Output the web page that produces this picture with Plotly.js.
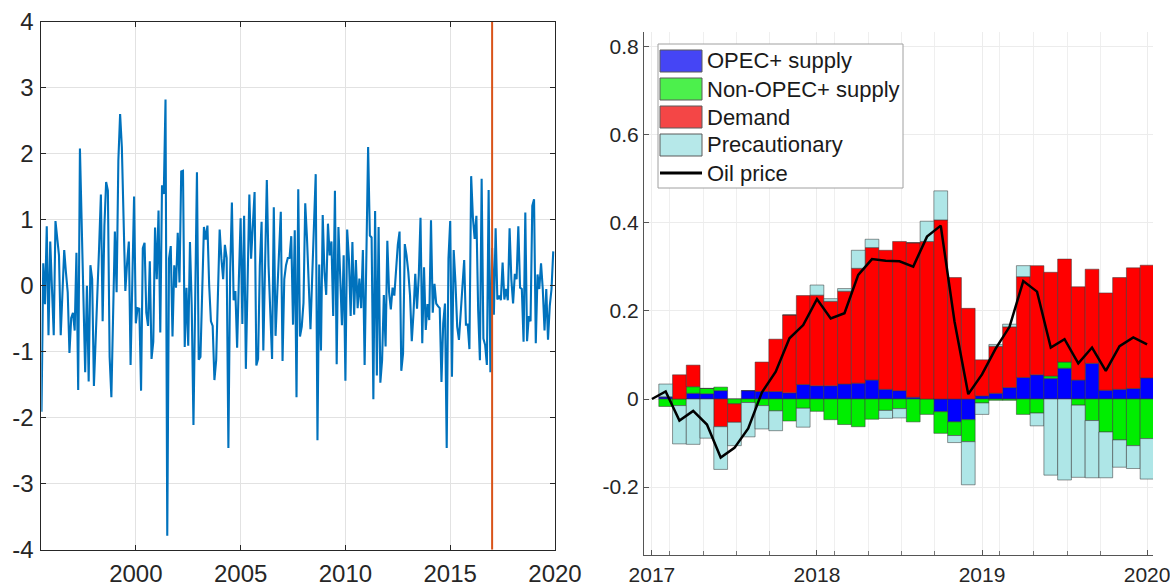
<!DOCTYPE html>
<html><head><meta charset="utf-8">
<script src="https://cdn.plot.ly/plotly-3.0.1.min.js"></script>
<style>html,body{margin:0;padding:0;background:#fff;} #chart{width:1170px;height:587px;}</style>
</head><body><div id="chart"></div>
<script>
// ---------- Left panel: monthly shock series (Jul 1995 - Dec 2019) ----------
const seriesStart = 1995.5;
const shockSeries = [
 -1.91, 0.34, -0.28, 0.90, -0.75, 0.67, -0.05, -0.75, 0.98, 0.75,
 0.46, -0.75, -0.10, 0.54, 0.20, -0.10, -1.02, -0.49, -0.41, -0.68,
 0.50, -1.58, 2.08, 0.80, -0.40, -1.31, 0.00, -1.45, 0.31, 0.10,
 -1.52, -0.90, -0.20, 0.60, 1.38, -0.54, 0.90, 1.57, 1.44, -1.08,
 -1.69, -0.40, 0.82, -0.10, 1.90, 2.60, 2.10, 1.00, -0.08, 0.34,
 0.67, -1.20, 0.30, 1.35, -0.57, -0.34, -0.35, -1.59, 0.57, 0.65,
 -0.41, -0.61, 0.37, -1.11, -0.85, 0.88, 0.10, 1.14, -0.71, 1.52,
 1.39, 2.82, -3.79, 0.41, 0.60, -0.77, 0.31, -0.03, 0.80, 0.05,
 1.73, 1.74, -0.93, -0.03, -0.91, 0.66, -0.30, -2.11, -0.20, 1.72,
 -1.12, -1.08, -0.10, 0.89, 0.70, 0.91, 0.00, -0.54, -0.61, -1.43,
 -1.13, -0.10, 0.85, 0.41, 0.10, 0.62, 0.42, -2.46, 0.20, 1.26,
 -0.22, -0.08, -0.94, 0.10, 1.02, -0.58, 1.06, -1.26, 0.00, 1.38,
 0.41, 0.90, 1.42, -1.21, -1.11, 0.30, 0.97, -0.98, 0.50, 1.60,
 0.30, -0.50, -1.11, 1.19, -0.76, -0.10, 0.60, 1.12, -1.14, 0.10,
 0.31, 0.42, 0.42, 0.75, -0.59, 0.84, -1.69, 1.46,
 -0.77, -0.62, -0.26, 1.25, 0.72, -0.05, -0.66, 0.15, 0.93, 1.69,
 -2.34, 0.32, -0.98, 1.07, 0.21, -0.14, 0.94, 0.46, 0.67, -0.46,
 1.44, -1.19, 0.89, 0.05, -0.60, 0.46, -1.44, 0.85, 0.41, -0.46,
 0.66, -0.44, 0.39, -0.34, 0.11, -0.34, 0.54, -1.20, 0.40,
 2.10, 0.76, 0.73, -1.72, 1.13, -1.36, 0.89, -1.47, -1.13, -0.14,
 -0.92, 0.68, -0.10, -0.36, -0.03, -0.15, 0.31, 0.62, 0.82,
 -1.29, -1.03, 0.63, 0.46, 0.21, -0.15, -0.84, -0.41, 0.18, -0.35,
 0.15, 1.03, -0.87, 0.28, -0.67, -0.28, -0.52, 0.99, -0.41, 0.03,
 -0.27, -0.31, -0.34, -1.46, -0.57, -0.27, -2.46, 0.41, 0.98, -1.38,
 0.54, 0.05, -0.62, -0.82, -0.46, 0.00, 0.39, -0.59, -0.59, -0.96,
 1.66, 1.03, 0.71, 1.06, -0.36, -1.13, 1.62, -0.80, -0.90, -1.20,
 1.45, -1.31,
 0.57, -0.44, 0.87, -0.21, -0.15, -0.22, 0.35, -0.21, -0.05, -0.22,
 0.87, 0.10, -0.27, 0.18, 0.10, 0.90, -0.03, -0.05, -0.85, 1.11,
 -0.84, -0.46, -0.54, 1.21, 1.31, -0.87, 0.17, -0.05, 0.34, -0.05,
 -0.68, -0.05, -0.82, -0.31, -0.05, 0.52
];
const breakYear = 2017;
const leftYRange = [-4, 4];
const leftYTicks = [-4, -3, -2, -1, 0, 1, 2, 3, 4];
const leftYTickText = ['-4', '-3', '-2', '-1', '0', '1', '2', '3', '4'];
const leftXTicks = [2000, 2005, 2010, 2015, 2020];
const leftXTickText = ['2000', '2005', '2010', '2015', '2020'];

// ---------- Right panel: historical decomposition (monthly, Feb 2017 - Jan 2020) ----------
const decompStart = 2017;
const opecSupply = [0.005, 0.000, 0.013, 0.012, 0.019, 0.000, 0.019, 0.017, 0.017, 0.014,
 0.033, 0.030, 0.030, 0.034, 0.036, 0.043, 0.022, 0.019, 0.004, 0.000,
 -0.029, -0.052, -0.047, 0.007, 0.013, 0.026, 0.049, 0.055, 0.047, 0.070,
 0.043, 0.081, 0.020, 0.022, 0.024, 0.048];
const nonOpecSupply = [-0.017, -0.015, 0.015, 0.012, 0.008, -0.011, -0.008, -0.015, -0.027, -0.050,
 -0.021, -0.028, -0.047, -0.058, -0.063, -0.046, -0.026, -0.022, -0.052, -0.035,
 -0.049, -0.031, -0.050, -0.009, -0.003, -0.003, -0.035, -0.032, 0.005, 0.014,
 -0.014, -0.049, -0.075, -0.093, -0.106, -0.090];
const demand = [0.000, 0.055, 0.049, 0.000, -0.063, -0.042, 0.000, 0.067, 0.119, 0.177,
 0.202, 0.206, 0.192, 0.211, 0.261, 0.301, 0.316, 0.339, 0.351, 0.358,
 0.407, 0.276, 0.206, 0.082, 0.107, 0.138, 0.229, 0.248, 0.236, 0.234,
 0.212, 0.214, 0.221, 0.254, 0.274, 0.256];
const precautionary = [0.029, -0.087, -0.103, -0.089, -0.097, -0.053, -0.078, -0.053, -0.045, 0.000,
 -0.043, 0.023, 0.006, 0.006, 0.041, 0.019, -0.018, -0.021, 0.000, 0.046,
 0.066, -0.016, -0.098, -0.026, 0.004, 0.006, 0.025, -0.029, -0.173, -0.184,
 -0.164, -0.130, -0.104, -0.062, -0.052, -0.092];
const oilPrice = [0.000, 0.017, -0.049, -0.027, -0.058, -0.133, -0.111, -0.067, 0.015, 0.062,
 0.138, 0.168, 0.227, 0.183, 0.195, 0.282, 0.318, 0.314, 0.313, 0.301,
 0.369, 0.394, 0.176, 0.011, 0.056, 0.115, 0.164, 0.268, 0.244, 0.117,
 0.136, 0.081, 0.117, 0.064, 0.120, 0.140, 0.124];
const rightXTicks = [2017, 2018, 2019, 2020];
const rightXTickText = ['2017', '2018', '2019', '2020'];
const rightMinorTicks = [2017.105, 2017.31, 2017.515, 2017.715, 2018.105, 2018.31, 2018.515, 2018.715,
 2019.105, 2019.31, 2019.515, 2019.715];
const rightYTicks = [-0.2, 0, 0.2, 0.4, 0.6, 0.8];
const rightYTickText = ['-0.2', '0', '0.2', '0.4', '0.6', '0.8'];
const legendLabels = ['OPEC+ supply', 'Non-OPEC+ supply', 'Demand', 'Precautionary', 'Oil price'];
const barColors = ['#0000ff', '#00ee00', '#ff0000', '#aee6e7'];
const legendColors = ['#4545f5', '#4cf04c', '#f44646', '#b6e8e9'];

// ---------- build ----------
const W = 1170, H = 587;
const fx = p => p / W;          // pixel -> paper x
const fy = p => 1 - p / H;      // pixel -> paper y

const leftX = shockSeries.map((_, i) => seriesStart + i / 12);
const barX = opecSupply.map((_, i) => decompStart + (i + 1) / 12);
const lineX = oilPrice.map((_, i) => decompStart + i / 12);

const barLine = {color: 'rgba(55,55,55,0.65)', width: 0.8};
const traces = [
  {x: leftX, y: shockSeries, type: 'scatter', mode: 'lines', xaxis: 'x', yaxis: 'y',
   line: {color: '#0072BD', width: 2.1}, hoverinfo: 'skip'},
  {x: [breakYear, breakYear], y: leftYRange, type: 'scatter', mode: 'lines', xaxis: 'x', yaxis: 'y',
   line: {color: '#D95319', width: 2}, hoverinfo: 'skip'}
];
[opecSupply, nonOpecSupply, demand, precautionary].forEach((vals, j) => {
  traces.push({x: barX, y: vals, type: 'bar', width: 1 / 12, xaxis: 'x2', yaxis: 'y2',
    name: legendLabels[j], marker: {color: barColors[j], line: barLine}, hoverinfo: 'skip'});
});
traces.push({x: lineX, y: oilPrice, type: 'scatter', mode: 'lines', xaxis: 'x2', yaxis: 'y2',
  name: legendLabels[4], line: {color: '#000000', width: 2.5}, hoverinfo: 'skip'});

// manual legend (box, swatches, labels)
const shapes = [];
const annotations = [];
shapes.push({type: 'rect', xref: 'paper', yref: 'paper', x0: fx(658), x1: fx(903), y0: fy(188), y1: fy(44),
  fillcolor: '#ffffff', line: {color: '#a0a0a0', width: 1}, layer: 'above'});
const rowY = [61, 89, 117, 145, 173];
for (let j = 0; j < 4; j++) {
  shapes.push({type: 'rect', xref: 'paper', yref: 'paper', x0: fx(660), x1: fx(702),
    y0: fy(rowY[j] + 11), y1: fy(rowY[j] - 11), fillcolor: legendColors[j],
    line: {color: '#5a5a5a', width: 1}, layer: 'above'});
}
shapes.push({type: 'line', xref: 'paper', yref: 'paper', x0: fx(660), x1: fx(702), y0: fy(rowY[4]), y1: fy(rowY[4]),
  line: {color: '#000000', width: 3}, layer: 'above'});
legendLabels.forEach((t, j) => {
  annotations.push({text: t, xref: 'paper', yref: 'paper', x: fx(705), y: fy(rowY[j]), xanchor: 'left', yanchor: 'middle',
    showarrow: false, font: {size: 22, color: '#1a1a1a'}});
});

const leftAxisCommon = {showline: true, linecolor: '#262626', linewidth: 1, mirror: 'ticks', ticks: 'inside',
  ticklen: 5, tickcolor: '#262626', showgrid: true, gridcolor: '#e2e2e2', gridwidth: 1, zeroline: false,
  tickfont: {size: 24, color: '#262626'}};

const layout = {
  width: W, height: H, margin: {l: 0, r: 0, t: 0, b: 0}, paper_bgcolor: '#ffffff', plot_bgcolor: '#ffffff',
  showlegend: false, barmode: 'relative', bargap: 0,
  font: {family: 'Liberation Sans, Arial, Helvetica, sans-serif', color: '#262626'},
  xaxis: Object.assign({}, leftAxisCommon, {domain: [fx(41.3), fx(555)], range: [1995.49, 2020.0], anchor: 'y',
    tickmode: 'array', tickvals: leftXTicks, ticktext: leftXTickText, ticklabelstandoff: 2, ticklabeloverflow: 'allow'}),
  yaxis: Object.assign({}, leftAxisCommon, {domain: [fy(549.7), fy(21.7)], range: leftYRange, anchor: 'x',
    tickmode: 'array', tickvals: leftYTicks, ticktext: leftYTickText, ticklabelstandoff: 2}),
  xaxis2: {domain: [fx(644), fx(1153)], range: [2016.952, 2020.036], anchor: 'y2',
    tickmode: 'array', tickvals: rightXTicks, ticktext: rightXTickText, ticklabelstandoff: 1, ticklabeloverflow: 'allow',
    showline: true, linecolor: '#555555', linewidth: 1, ticks: 'inside', ticklen: 5, tickcolor: '#555555',
    showgrid: true, gridcolor: '#ececec', zeroline: false, tickfont: {size: 21, color: '#262626'},
    minor: {tickmode: 'array', tickvals: rightMinorTicks, ticks: 'inside', ticklen: 4, tickcolor: '#777777',
      showgrid: true, gridcolor: '#efefef'}},
  yaxis2: {domain: [fy(555), fy(32)], range: [-0.3545, 0.834], anchor: 'x2',
    tickmode: 'array', tickvals: rightYTicks, ticktext: rightYTickText,
    showline: true, linecolor: '#555555', linewidth: 1, ticks: 'inside', ticklen: 5, tickcolor: '#555555',
    showgrid: true, gridcolor: '#ececec', zeroline: false, tickfont: {size: 21, color: '#262626'}},
  shapes: shapes,
  annotations: annotations
};

Plotly.newPlot('chart', traces, layout, {staticPlot: true, displayModeBar: false});
</script>
</body></html>
